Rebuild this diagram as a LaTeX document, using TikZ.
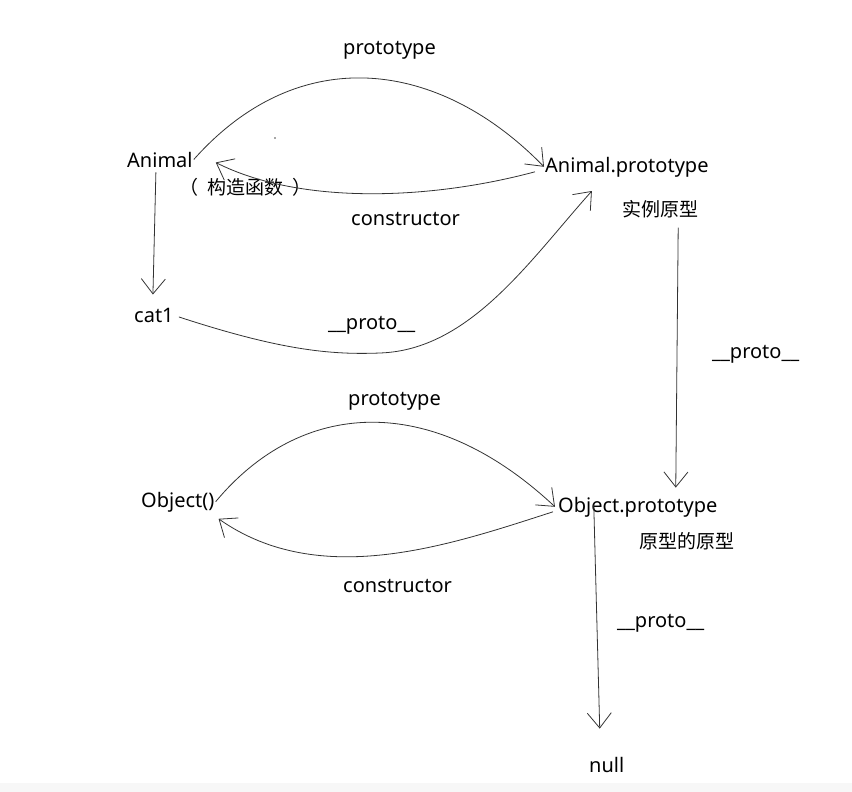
\documentclass[tikz,border=0pt]{standalone}
\usepackage{fontspec}
\setmainfont{Noto Sans}
\newfontfamily\cjk{Noto Sans CJK SC}
\usetikzlibrary{arrows.meta}

\tikzset{
  lbl/.style={inner sep=1pt, font=\fontsize{20}{24}\selectfont, anchor=base west},
  zh/.style={inner sep=1pt, font=\cjk\fontsize{19}{23}\selectfont, anchor=base west},
  arr/.style={draw=black!80, line width=0.8pt, -{Straight Barb[length=15pt,width=24pt]}}
}

\begin{document}
\begin{tikzpicture}[x=1pt, y=-1pt]
        % Page
        \useasboundingbox (0,0) rectangle (852,792);
        \fill[black!3] (0,783) rectangle (852,792);

        % Upper half
        \node[lbl] (anim) at (126,167) {Animal};
        \node[zh] (ctor) at (178,194) {（\hspace{9pt}构造函数\hspace{9pt}）};
        \node[lbl] (aproto) at (544,172) {Animal.prototype};
        \node[zh] (inst) at (621,216) {实例原型};
        \node[lbl] (cat) at (133,322) {cat1};
        \node[lbl] (p1) at (342,55) {prototype};
        \node[lbl] (c1) at (350,225) {constructor};
        \node[lbl] (u1) at (327,329) {\_\_proto\_\_};
        \node[lbl] (u2) at (711,358) {\_\_proto\_\_};

        % Lower half
        \node[lbl] (obj) at (140,507) {Object()};
        \node[lbl] (oproto) at (557,512) {Object.prototype};
        \node[zh] (proto2) at (638,548) {原型的原型};
        \node[lbl] (p2) at (347,405) {prototype};
        \node[lbl] (c2) at (342,592) {constructor};
        \node[lbl] (u3) at (616,627) {\_\_proto\_\_};
        \node[lbl] (nul) at (588,772) {null};

        % Stray dot
        \fill[black!70] (275,138) circle (0.8pt);

        % Animal <-> Animal.prototype
        \draw[arr] (anim.east) .. controls (300,40) and (440,60) .. (aproto.west);
        \draw[arr] ([xshift=-9pt,yshift=-5pt]aproto.west)
            .. controls (430,200) and (300,205) .. ([xshift=22pt,yshift=-3pt]anim.east);

        % Animal -> cat1
        \draw[arr] ([xshift=-4pt,yshift=-4pt]anim.south) -- ([xshift=-1pt,yshift=12pt]cat.north);

        % cat1 -> Animal.prototype
        \draw[arr] ([xshift=4pt,yshift=-2pt]cat.east)
            .. controls (280,350) and (330,355) .. (380,353)
            .. controls (470,350) and (530,260) .. ([xshift=-35pt,yshift=-13pt]aproto.south);

        % Animal.prototype -> Object.prototype
        \draw[arr] ([xshift=18pt,yshift=-9pt]inst.south) -- ([xshift=38pt,yshift=8pt]oproto.north);

        % Object() <-> Object.prototype
        \draw[arr] (obj.east) .. controls (300,400) and (430,390) .. ([xshift=-2pt]oproto.west);
        \draw[arr] ([xshift=-4pt,yshift=-5pt]oproto.west)
            .. controls (450,545) and (320,590) .. ([xshift=3pt,yshift=-17pt]obj.east);

        % Object.prototype -> null
        \draw[arr] ([xshift=-44pt,yshift=2pt]oproto.center) -- ([xshift=-7pt,yshift=27pt]nul.north);
    \end{tikzpicture}
\end{document}
